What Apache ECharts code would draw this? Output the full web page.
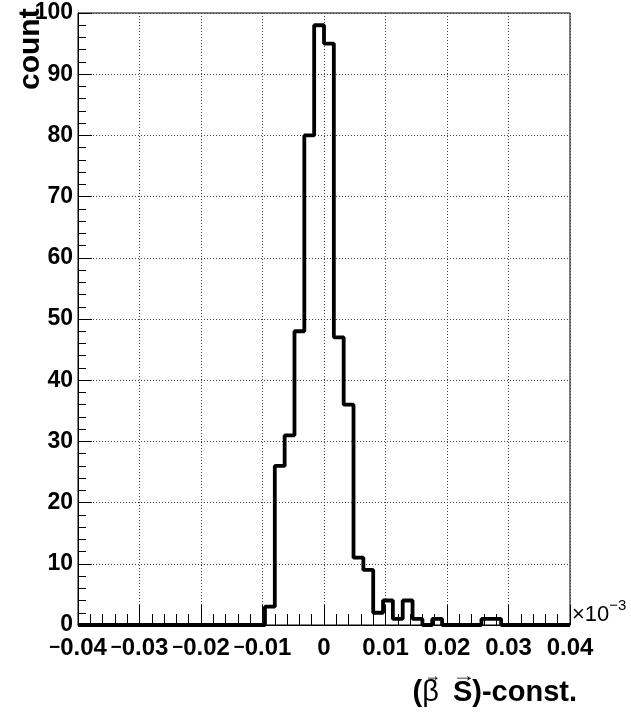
<!DOCTYPE html>
<html>
<head>
<meta charset="utf-8">
<script src="https://cdn.jsdelivr.net/npm/echarts@6/dist/echarts.min.js"></script>
<style>
html,body{margin:0;padding:0;background:#fff;}
#chart{width:631px;height:712px;}
</style>
</head>
<body>
<div id="chart"></div>
<script>
// Histogram definition
const xMin = -0.04;
const xMax = 0.04;
const binWidth = 0.0016;
const binCounts = [
  0,0,0,0,0,0,0,0,0,0,
  0,0,0,0,0,0,0,0,0,3,
  26,31,48,80,98,95,47,36,11,9,
  2,4,1,4,1,0,1,0,0,0,
  0,1,1,0,0,0,0,0,0,0
];
const xTicks = [-0.04,-0.03,-0.02,-0.01,0,0.01,0.02,0.03,0.04];
const yTicks = [0,10,20,30,40,50,60,70,80,90,100];
const yTitle = 'count';
const xTitleParts = ['(', 'β', 'S', ')-const.'];
const vecMark = '\u2192';
const xExponent = '×10';
const xExponentSup = '\u22123';

const FAM = '"Liberation Sans", Arial, Helvetica, sans-serif';

// step outline from bin edges
const stepPoints = [];
binCounts.forEach((v, k) => {
  const lo = xMin + k * binWidth;
  const hi = xMin + (k + 1) * binWidth;
  stepPoints.push([lo, v]);
  stepPoints.push([hi, v]);
});

function fmtX(v) {
  const r = Math.round(v * 100) / 100;
  if (Math.abs(r) < 1e-9) return '0';
  const s = Math.abs(r).toFixed(2);
  return r < 0 ? '{m|\u2212}' + s : s;
}

const mctx = document.createElement('canvas').getContext('2d');
function tw(text, font) { mctx.font = font; return mctx.measureText(text).width; }

// x-title layout
const TS = 29;
const fB = 'bold ' + TS + 'px ' + FAM;
const fR = TS + 'px ' + FAM;
const titleRight = 577, titleBottom = 707, gapBS = 14;
const wTail = tw(xTitleParts[2] + xTitleParts[3], fB);
const sX = titleRight - wTail;
const wS = tw(xTitleParts[2], fB);
const betaW = tw(xTitleParts[1], fR);
const betaX = sX - gapBS - betaW;
const parX = betaX - tw(xTitleParts[0], fB);

// exponent layout
const expX = 572;
const expFont = '22px ' + FAM;
const expW = tw(xExponent, expFont);

const chart = echarts.init(document.getElementById('chart'), null, {renderer: 'canvas'});
const gridL = 78, gridR = 61, gridT = 13, gridB = 87;

chart.setOption({
  animation: false,
  backgroundColor: '#fff',
  grid: {left: gridL, right: gridR, top: gridT, bottom: gridB, show: true, borderColor: '#000', borderWidth: 1, backgroundColor: 'transparent'},
  xAxis: {
    type: 'value', min: xMin, max: xMax, interval: 0.01,
    axisLine: {show: true, onZero: false, lineStyle: {color: '#000', width: 1}},
    axisTick: {show: true, inside: true, length: 20, lineStyle: {color: '#000', width: 1}},
    minorTick: {show: true, splitNumber: 5, length: 11, lineStyle: {color: '#000', width: 1}},
    splitLine: {show: true, lineStyle: {color: '#444', width: 1, type: [1, 2]}},
    axisLabel: {
      formatter: fmtX, color: '#000', fontFamily: FAM, fontWeight: 'bold', fontSize: 24, margin: 11,
      customValues: xTicks,
      rich: {m: {fontFamily: FAM, fontWeight: 'bold', fontSize: 19, color: '#000', verticalAlign: 'middle'}}
    }
  },
  yAxis: {
    type: 'value', min: 0, max: 100, interval: 10,
    axisLine: {show: true, onZero: false, lineStyle: {color: '#000', width: 1}},
    axisTick: {show: true, inside: true, length: 14, lineStyle: {color: '#000', width: 1}},
    minorTick: {show: true, splitNumber: 5, length: 8, lineStyle: {color: '#000', width: 1}},
    splitLine: {show: true, lineStyle: {color: '#444', width: 1, type: [1, 2]}},
    axisLabel: {color: '#000', fontFamily: FAM, fontWeight: 'bold', fontSize: 23, margin: 5, customValues: yTicks}
  },
  series: [{
    type: 'line',
    data: stepPoints,
    showSymbol: false,
    symbol: 'none',
    clip: false,
    lineStyle: {color: '#000', width: 3.8},
    z: 5
  }],
  graphic: [
    {
      type: 'text', x: 31, y: 90, rotation: Math.PI / 2,
      style: {text: yTitle, fontFamily: FAM, fontWeight: 'bold', fontSize: 30, fill: '#000', textAlign: 'left', textVerticalAlign: 'middle'}
    },
    {
      type: 'text', x: expX, y: 626,
      style: {text: xExponent, fontFamily: FAM, fontSize: 22, fill: '#000', textAlign: 'left', textVerticalAlign: 'bottom'}
    },
    {
      type: 'text', x: expX + expW, y: 613,
      style: {text: xExponentSup, fontFamily: FAM, fontSize: 15, fill: '#000', textAlign: 'left', textVerticalAlign: 'bottom'}
    },
    {
      type: 'text', x: parX, y: titleBottom,
      style: {text: xTitleParts[0], fontFamily: FAM, fontWeight: 'bold', fontSize: TS, fill: '#000', textAlign: 'left', textVerticalAlign: 'bottom'}
    },
    {
      type: 'text', x: betaX, y: titleBottom,
      style: {text: xTitleParts[1], fontFamily: FAM, fontWeight: 'normal', fontSize: TS, fill: '#000', textAlign: 'left', textVerticalAlign: 'bottom'}
    },
    {
      type: 'text', x: sX, y: titleBottom,
      style: {text: xTitleParts[2] + xTitleParts[3], fontFamily: FAM, fontWeight: 'bold', fontSize: TS, fill: '#000', textAlign: 'left', textVerticalAlign: 'bottom'}
    },
    {
      type: 'text', x: betaX + betaW / 2 + 2, y: 676, scaleX: 0.9,
      style: {text: vecMark, fontFamily: FAM, fontWeight: 'bold', fontSize: 18, fill: '#000', textAlign: 'center', textVerticalAlign: 'middle'}
    },
    {
      type: 'text', x: sX + wS / 2 + 1, y: 676, scaleX: 1.3,
      style: {text: vecMark, fontFamily: FAM, fontWeight: 'bold', fontSize: 18, fill: '#000', textAlign: 'center', textVerticalAlign: 'middle'}
    }
  ]
});
</script>
</body>
</html>
